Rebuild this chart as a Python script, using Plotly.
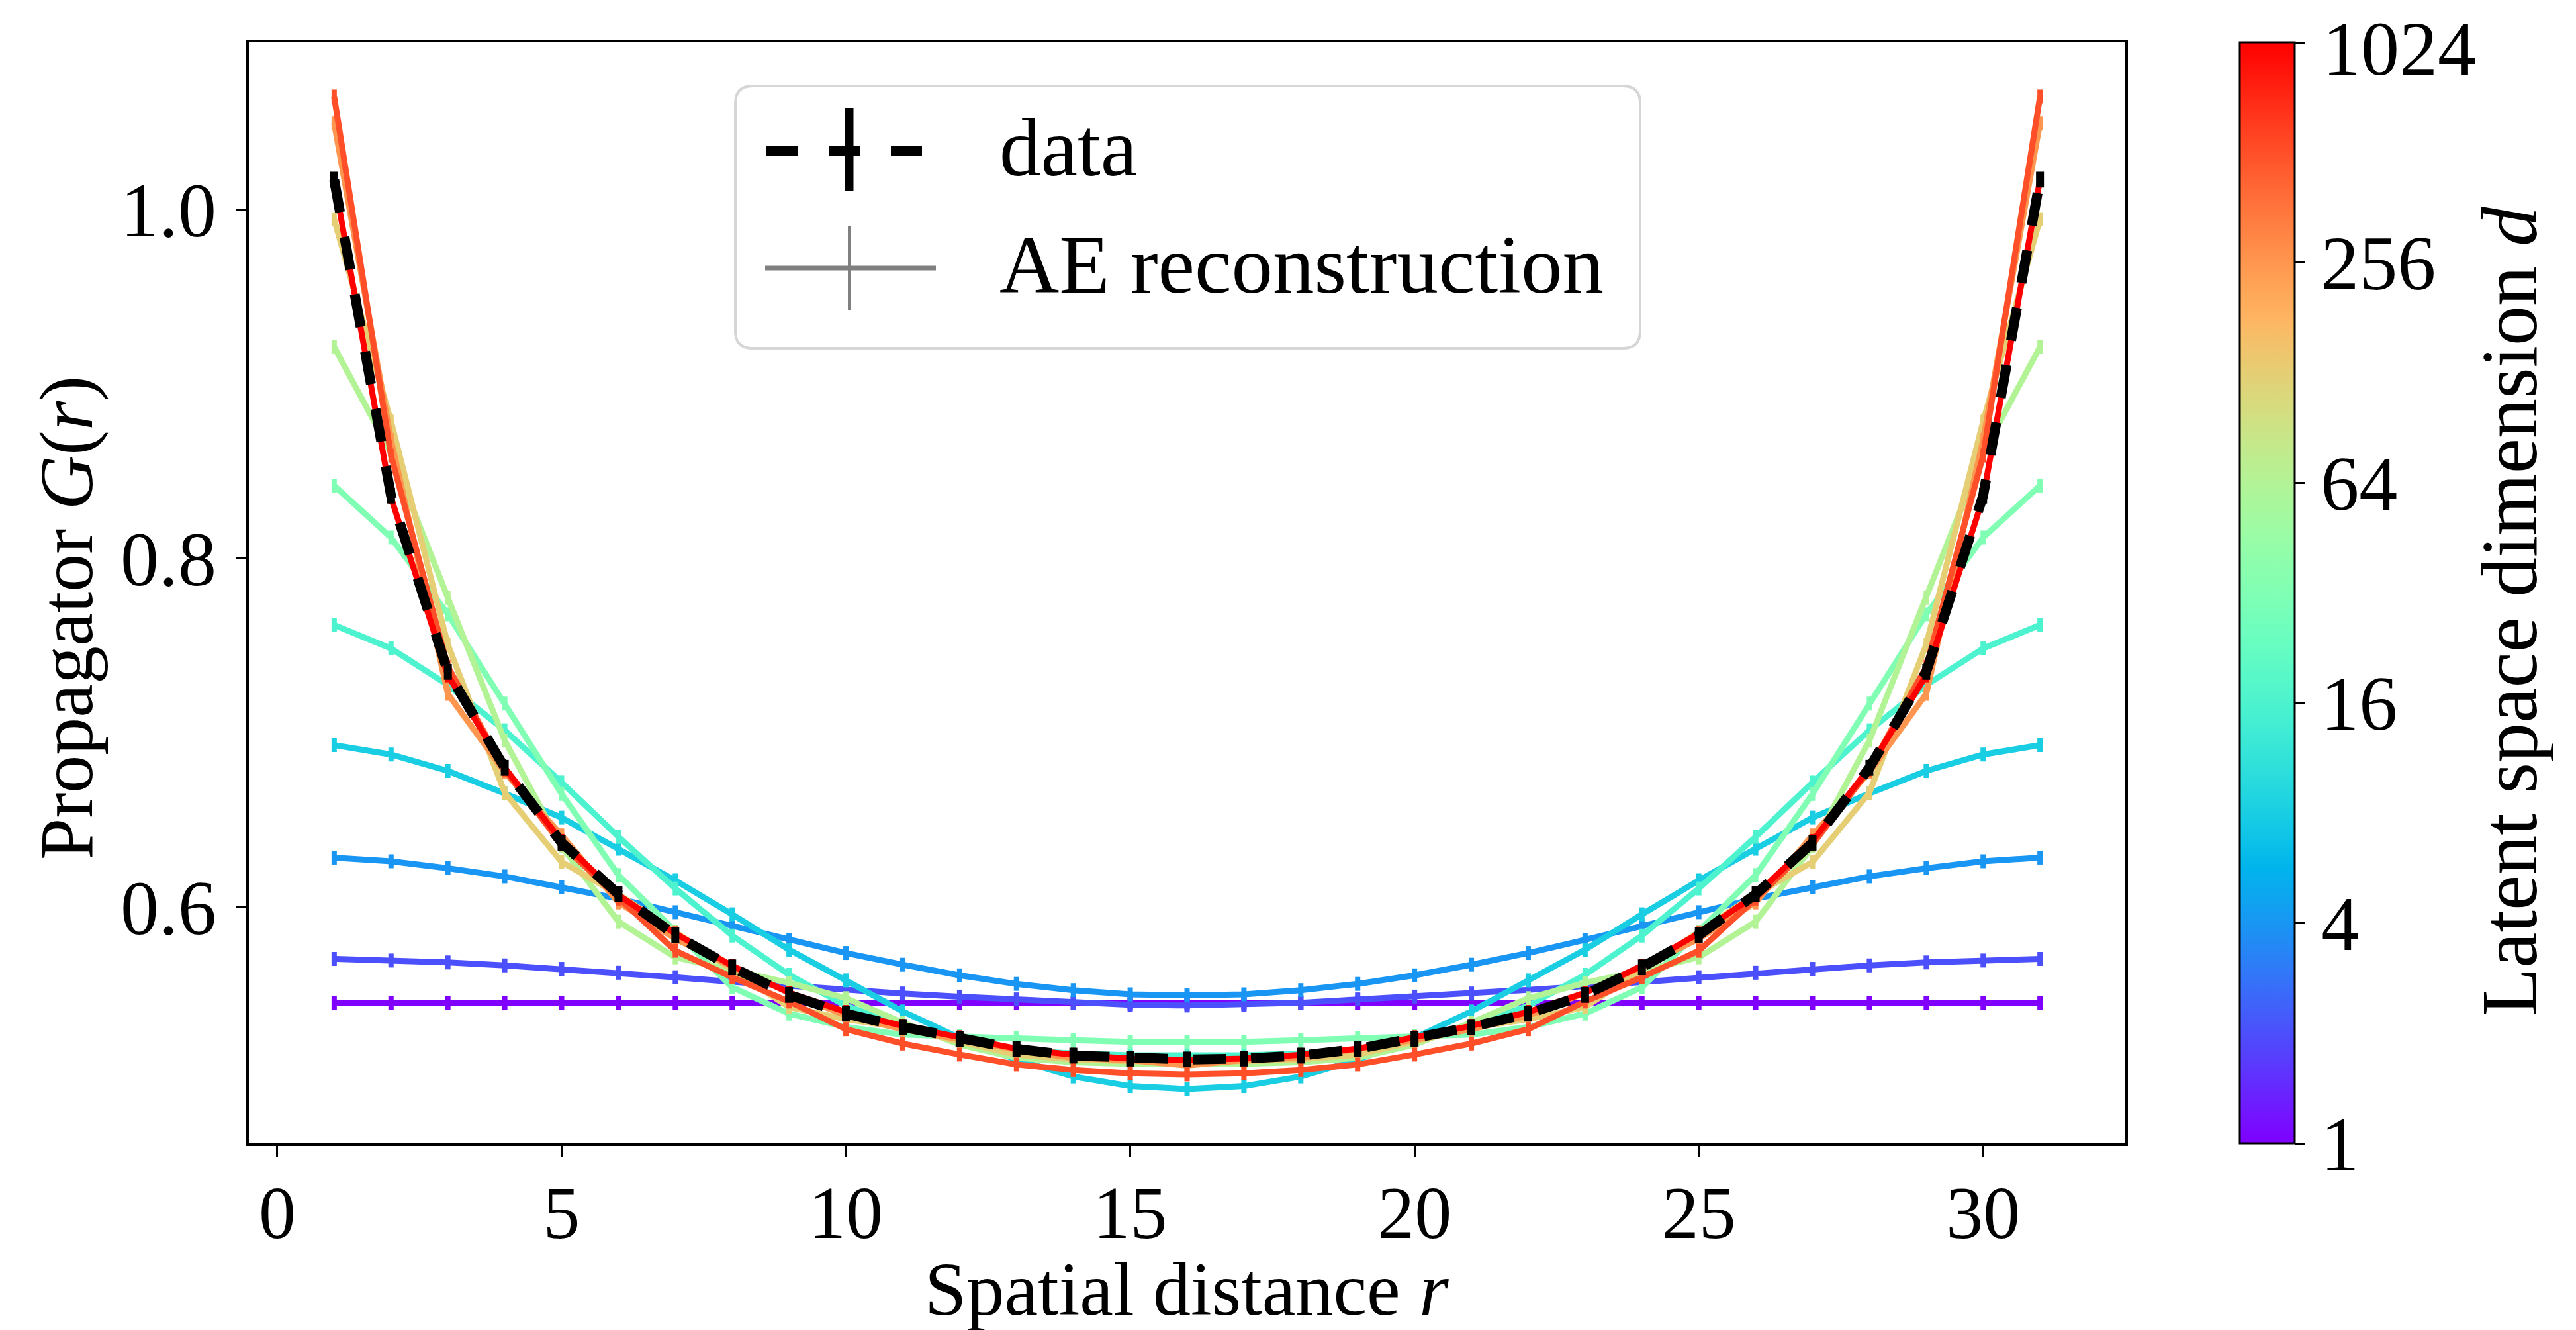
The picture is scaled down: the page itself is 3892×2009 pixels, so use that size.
import math
import plotly.graph_objects as go

# ---------------- data ----------------
r = list(range(1, 32))
dims = [1, 2, 4, 8, 16, 32, 64, 128, 256, 512, 1024]

G_d1 = [0.545, 0.545, 0.545, 0.545, 0.545, 0.545, 0.545, 0.545, 0.545, 0.545, 0.545, 0.545, 0.545, 0.545, 0.545, 0.545,
        0.545, 0.545, 0.545, 0.545, 0.545, 0.545, 0.545, 0.545, 0.545, 0.545, 0.545, 0.545, 0.545, 0.545, 0.545]
G_d2 = [0.5704, 0.5695, 0.5684, 0.5667, 0.5647, 0.5625, 0.5599, 0.5573, 0.5548, 0.5527, 0.5506, 0.5488, 0.5472, 0.5453, 0.5441, 0.5437,
        0.5441, 0.5453, 0.5472, 0.5488, 0.5506, 0.5527, 0.5548, 0.5573, 0.5599, 0.5625, 0.5647, 0.5667, 0.5684, 0.5695, 0.5704]
G_d4 = [0.6285, 0.6264, 0.6224, 0.6177, 0.6114, 0.6050, 0.5972, 0.5892, 0.5814, 0.5738, 0.5671, 0.5610, 0.5561, 0.5525, 0.5501, 0.5495,
        0.5501, 0.5525, 0.5561, 0.5610, 0.5671, 0.5738, 0.5814, 0.5892, 0.5972, 0.6050, 0.6114, 0.6177, 0.6224, 0.6264, 0.6285]
G_d8 = [0.6930, 0.6876, 0.6782, 0.6653, 0.6514, 0.6336, 0.6154, 0.5960, 0.5757, 0.5581, 0.5403, 0.5251, 0.5126, 0.5030, 0.4975, 0.4958,
        0.4975, 0.5030, 0.5126, 0.5251, 0.5403, 0.5581, 0.5757, 0.5960, 0.6154, 0.6336, 0.6514, 0.6653, 0.6782, 0.6876, 0.6930]
G_d16 = [0.7619, 0.7484, 0.7275, 0.7015, 0.6716, 0.6404, 0.6108, 0.5838, 0.5613, 0.5436, 0.5320, 0.5238, 0.5181, 0.5162, 0.5152, 0.5150,
         0.5152, 0.5162, 0.5181, 0.5238, 0.5320, 0.5436, 0.5613, 0.5838, 0.6108, 0.6404, 0.6716, 0.7015, 0.7275, 0.7484, 0.7619]
G_d32 = [0.8418, 0.8120, 0.7680, 0.7168, 0.6650, 0.6185, 0.5860, 0.5542, 0.5390, 0.5314, 0.5270, 0.5262, 0.5251, 0.5238, 0.5229, 0.5226,
         0.5229, 0.5238, 0.5251, 0.5262, 0.5270, 0.5314, 0.5390, 0.5542, 0.5860, 0.6185, 0.6650, 0.7168, 0.7680, 0.8120, 0.8418]
G_d64 = [0.9213, 0.8605, 0.7774, 0.6956, 0.6350, 0.5918, 0.5713, 0.5637, 0.5567, 0.5479, 0.5339, 0.5213, 0.5137, 0.5112, 0.5102, 0.5102,
         0.5102, 0.5112, 0.5137, 0.5213, 0.5339, 0.5479, 0.5567, 0.5637, 0.5713, 0.5918, 0.6350, 0.6956, 0.7774, 0.8605, 0.9213]
G_d128 = [0.9945, 0.8785, 0.7507, 0.6657, 0.6260, 0.6075, 0.5858, 0.5643, 0.5428, 0.5358, 0.5310, 0.5230, 0.5155, 0.5128, 0.5118, 0.5118,
          0.5118, 0.5128, 0.5155, 0.5230, 0.5310, 0.5358, 0.5428, 0.5643, 0.5858, 0.6075, 0.6260, 0.6657, 0.7507, 0.8785, 0.9945]
G_d256 = [1.0497, 0.8680, 0.7224, 0.6775, 0.6413, 0.6028, 0.5820, 0.5660, 0.5510, 0.5380, 0.5300, 0.5240, 0.5185, 0.5137, 0.5124, 0.5093,
          0.5124, 0.5137, 0.5185, 0.5240, 0.5300, 0.5380, 0.5510, 0.5660, 0.5820, 0.6028, 0.6413, 0.6775, 0.7224, 0.8680, 1.0497]
G_d512 = [1.0648, 0.8590, 0.7380, 0.6790, 0.6360, 0.6050, 0.5751, 0.5599, 0.5460, 0.5301, 0.5219, 0.5156, 0.5099, 0.5067, 0.5048, 0.5042,
          0.5048, 0.5067, 0.5099, 0.5156, 0.5219, 0.5301, 0.5460, 0.5599, 0.5751, 0.6050, 0.6360, 0.6790, 0.7380, 0.8590, 1.0648]
G_d1024 = [1.0172, 0.8350, 0.7330, 0.6800, 0.6380, 0.6070, 0.5850, 0.5665, 0.5510, 0.5400, 0.5320, 0.5255, 0.5190, 0.5155, 0.5133, 0.5125,
           0.5133, 0.5155, 0.5190, 0.5255, 0.5320, 0.5400, 0.5510, 0.5665, 0.5850, 0.6070, 0.6380, 0.6800, 0.7330, 0.8350, 1.0172]
G_data = [1.0172, 0.8360, 0.7350, 0.6800, 0.6370, 0.6075, 0.5840, 0.5656, 0.5498, 0.5390, 0.5314, 0.5245, 0.5188, 0.5150, 0.5133, 0.5128,
          0.5133, 0.5150, 0.5188, 0.5245, 0.5314, 0.5390, 0.5498, 0.5656, 0.5840, 0.6075, 0.6370, 0.6800, 0.7350, 0.8360, 1.0172]

recon = [G_d1, G_d2, G_d4, G_d8, G_d16, G_d32, G_d64, G_d128, G_d256, G_d512, G_d1024]

x_ticks = [0, 5, 10, 15, 20, 25, 30]
y_ticks = [0.6, 0.8, 1.0]
y_ticklabels = ["0.6", "0.8", "1.0"]
cb_tickvals = [0, 2, 4, 6, 8, 10]
cb_ticktext = ["1", "4", "16", "64", "256", ""]
cb_top_label = "1024"


# ---------------- style ----------------
def rainbow(t):
    rr = min(1.0, abs(2 * t - 0.5))
    gg = min(1.0, max(0.0, math.sin(math.pi * t)))
    bb = min(1.0, max(0.0, math.cos(math.pi * t / 2)))
    return "rgb(%d,%d,%d)" % (round(rr * 255), round(gg * 255), round(bb * 255))


colorscale = [[i / 40, rainbow(i / 40)] for i in range(41)]

FONT = "Liberation Serif"
TICK_SIZE = 116
XTICK_SIZE = 112
LABEL_SIZE = 114
W, H = 3892, 2009
L, R, T, B = 368, 3203, 56, 1719  # plot area in px


def px(xp):
    return (xp - L) / (R - L)


def py(yp):
    return (B - yp) / (B - T)


fig = go.Figure()

for d, vals in zip(dims, recon):
    c = rainbow(math.log2(d) / 10)
    fig.add_trace(go.Scatter(
        x=r, y=vals, mode="lines+markers",
        line=dict(color=c, width=9),
        marker=dict(symbol="line-ns", size=15, line=dict(width=8, color=c), color=c),
        showlegend=False, hoverinfo="skip"))

fig.add_trace(go.Scatter(
    x=r, y=G_data, mode="lines+markers",
    line=dict(color="black", width=15, dash="50px,38px"),
    marker=dict(symbol="line-ns", size=17, line=dict(width=12, color="black"), color="black"),
    showlegend=False, hoverinfo="skip"))

# colorbar carrier
fig.add_trace(go.Scatter(
    x=[r[0], r[0]], y=[G_d1[0], G_d1[0]], mode="markers",
    marker=dict(size=0.1, opacity=0, color=[0, 10], cmin=0, cmax=10,
                colorscale=colorscale, showscale=True,
                colorbar=dict(
                    x=px(3376), xanchor="left", xpad=0, ypad=0,
                    y=0.5, yanchor="middle", len=1, lenmode="fraction",
                    thickness=83, thicknessmode="pixels",
                    outlinewidth=3, outlinecolor="black",
                    tickmode="array", tickvals=cb_tickvals, ticktext=cb_ticktext,
                    ticks="outside", ticklen=15, tickwidth=3, tickcolor="black",
                    ticklabeloverflow="allow",
                    tickfont=dict(family=FONT, size=TICK_SIZE, color="black"),
                )),
    showlegend=False, hoverinfo="skip"))

axis_common = dict(showgrid=False, zeroline=False, showline=True, linewidth=3.5,
                   linecolor="black", mirror=True, ticks="outside", ticklen=16,
                   tickwidth=3, tickcolor="black")

fig.update_xaxes(range=[-0.5, 32.5], tickmode="array", tickvals=x_ticks,
                 ticklabelstandoff=-11,
                 tickfont=dict(family=FONT, size=XTICK_SIZE, color="black"),
                 **axis_common)
fig.update_yaxes(range=[0.4647, 1.0959], tickmode="array", tickvals=y_ticks,
                 ticktext=y_ticklabels, ticklabelstandoff=6,
                 tickfont=dict(family=FONT, size=TICK_SIZE, color="black"),
                 **axis_common)

# ---------------- manual legend (matplotlib style) ----------------
x0, x1, y0, y1, rad = 1103, 2470, 122, 518, 26
path = (f"M {px(x0+rad)},{py(y0)} L {px(x1-rad)},{py(y0)} "
        f"Q {px(x1)},{py(y0)} {px(x1)},{py(y0+rad)} L {px(x1)},{py(y1-rad)} "
        f"Q {px(x1)},{py(y1)} {px(x1-rad)},{py(y1)} L {px(x0+rad)},{py(y1)} "
        f"Q {px(x0)},{py(y1)} {px(x0)},{py(y1-rad)} L {px(x0)},{py(y0+rad)} "
        f"Q {px(x0)},{py(y0)} {px(x0+rad)},{py(y0)} Z")
shapes = [dict(type="path", xref="paper", yref="paper", path=path,
               fillcolor="rgba(255,255,255,0.8)", line=dict(color="#d6d6d6", width=4))]
# data key
shapes.append(dict(type="line", xref="paper", yref="paper",
                   x0=px(1150), x1=px(1398), y0=py(220), y1=py(220),
                   line=dict(color="black", width=15, dash="47px,47px")))
shapes.append(dict(type="line", xref="paper", yref="paper",
                   x0=px(1275), x1=px(1275), y0=py(155), y1=py(281),
                   line=dict(color="black", width=13)))
# AE key
shapes.append(dict(type="line", xref="paper", yref="paper",
                   x0=px(1148), x1=px(1406), y0=py(397), y1=py(397),
                   line=dict(color="#808080", width=7)))
shapes.append(dict(type="line", xref="paper", yref="paper",
                   x0=px(1275), x1=px(1275), y0=py(334), y1=py(460),
                   line=dict(color="#808080", width=4)))

annotations = [
    dict(xref="paper", yref="paper", x=px(1500), y=py(215), text="data",
         showarrow=False, xanchor="left", yanchor="middle",
         font=dict(family=FONT, size=125, color="black")),
    dict(xref="paper", yref="paper", x=px(1500), y=py(392), text="AE reconstruction",
         showarrow=False, xanchor="left", yanchor="middle",
         font=dict(family=FONT, size=125, color="black")),
    # top colour-bar label
    dict(xref="paper", yref="paper", x=px(3500), y=py(1), text=cb_top_label,
         showarrow=False, xanchor="left", yanchor="top", borderpad=0,
         font=dict(family=FONT, size=TICK_SIZE, color="black")),
    # axis titles
    dict(xref="paper", yref="paper", x=px(1785), y=py(1939), text="Spatial distance <i>r</i>",
         showarrow=False, xanchor="center", yanchor="middle", borderpad=0,
         font=dict(family=FONT, size=LABEL_SIZE, color="black")),
    dict(xref="paper", yref="paper", x=px(92), y=py(926), text="Propagator <i>G</i>(<i>r</i>)",
         showarrow=False, xanchor="center", yanchor="middle", textangle=-90,
         font=dict(family=FONT, size=114, color="black")),
    dict(xref="paper", yref="paper", x=px(3783), y=py(915), text="Latent space dimension <i>d</i>",
         showarrow=False, xanchor="center", yanchor="middle", textangle=-90,
         font=dict(family=FONT, size=120, color="black")),
]

fig.update_layout(
    width=W, height=H,
    margin=dict(l=L, r=W - R, t=T, b=H - B, autoexpand=False),
    paper_bgcolor="white", plot_bgcolor="white",
    shapes=shapes, annotations=annotations,
    font=dict(family=FONT, color="black"),
    showlegend=False,
)

fig.write_html("out.html")
